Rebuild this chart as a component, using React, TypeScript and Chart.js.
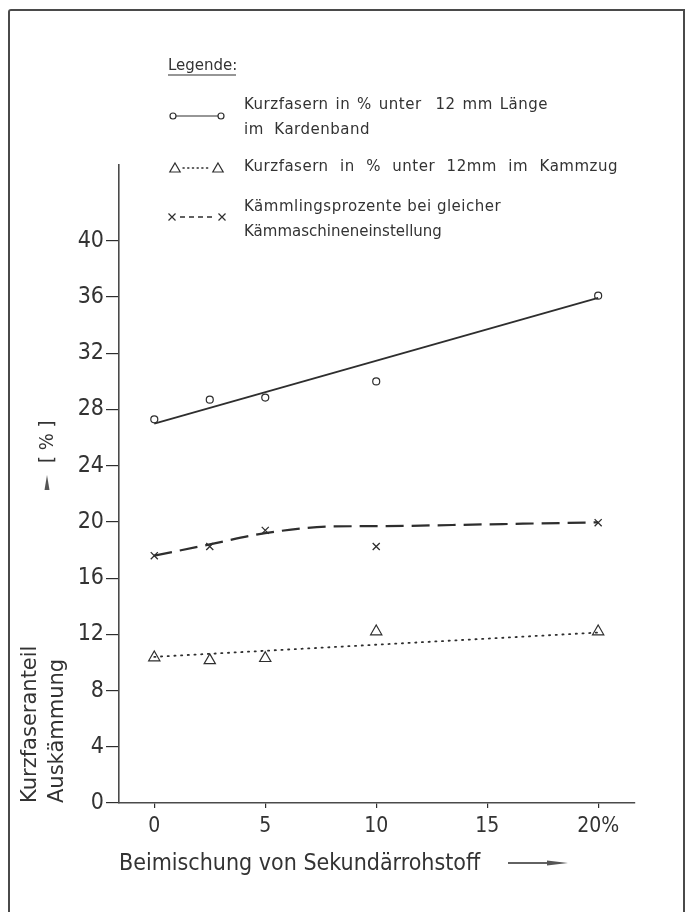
import React, { useEffect, useRef } from "react";
import { Chart, registerables } from "chart.js";

Chart.register(...registerables);

// ---- data ----
const xTickValues = [0, 5, 10, 15, 20];
const yTickValues = [0, 4, 8, 12, 16, 20, 24, 28, 32, 36, 40];

const xValues = [0, 2.5, 5, 10, 20];
const kardenband = [27.3, 28.7, 28.85, 30.0, 36.1];
const kammzug = [10.35, 10.15, 10.3, 12.2, 12.2];
const kaemmling = [17.6, 18.25, 19.4, 18.25, 19.95];

const kardenbandFitX = [0, 20];
const kardenbandFit = [27.0, 35.95];
const kammzugFitX = [0, 20];
const kammzugFit = [10.4, 12.13];
const kaemmlingCurveX = [0, 2.5, 5, 8, 10, 15, 20];
const kaemmlingCurve = [17.6, 18.4, 19.2, 19.68, 19.7, 19.83, 19.97];

const legendTitle = "Legende:";
const seriesLabels = [
  ["Kurzfasern in % unter  12 mm Länge", "im Kardenband"],
  ["Kurzfasern in % unter 12mm im Kammzug"],
  ["Kämmlingsprozente bei gleicher", "Kämmaschineneinstellung"],
];
const xTitle = "Beimischung von Sekundärrohstoff";
const yTitle = ["Kurzfaseranteil", "Auskämmung"];
const yUnit = "[ % ]";

const INK = "#2e2e2e";
const TXT = "#333";
const COND = "'DejaVu Sans Condensed', 'DejaVu Sans', sans-serif";
const SANS = "'DejaVu Sans', sans-serif";

const pts = (xs: number[], ys: number[]) => xs.map((x, i) => ({ x, y: ys[i] }));

function fitText(ctx: CanvasRenderingContext2D, text: string, x: number, y: number, w: number) {
  const c: any = ctx;
  const base = 0.5;
  c.letterSpacing = base + "px";
  c.wordSpacing = "0px";
  const nat = ctx.measureText(text).width;
  const spaces = (text.match(/ /g) || []).length;
  if (spaces > 0) c.wordSpacing = Math.max(0, (w - nat) / spaces) + "px";
  else c.letterSpacing = Math.max(0, base + (w - nat) / text.length) + "px";
  ctx.fillText(text, x, y);
  c.letterSpacing = "0px";
  c.wordSpacing = "0px";
}

function tri(ctx: CanvasRenderingContext2D, x: number, y: number, r: number) {
  ctx.beginPath();
  ctx.moveTo(x, y - r);
  ctx.lineTo(x + r * 0.866, y + r * 0.5);
  ctx.lineTo(x - r * 0.866, y + r * 0.5);
  ctx.closePath();
  ctx.stroke();
}

function cross(ctx: CanvasRenderingContext2D, x: number, y: number, r: number) {
  ctx.beginPath();
  ctx.moveTo(x - r, y - r);
  ctx.lineTo(x + r, y + r);
  ctx.moveTo(x + r, y - r);
  ctx.lineTo(x - r, y + r);
  ctx.stroke();
}

const overlayPlugin = {
  id: "overlay",
  afterDraw(chart: any) {
    const ctx: CanvasRenderingContext2D = chart.ctx;
    ctx.save();
    ctx.fillStyle = TXT;
    ctx.strokeStyle = INK;
    ctx.textBaseline = "middle";
    ctx.textAlign = "left";

    // legend
    ctx.font = `15px ${SANS}`;
    fitText(ctx, legendTitle, 168, 66, 66);
    ctx.lineWidth = 1.2;
    ctx.beginPath();
    ctx.moveTo(168, 75);
    ctx.lineTo(236, 75);
    ctx.stroke();

    fitText(ctx, seriesLabels[0][0], 244, 105, 304);
    fitText(ctx, seriesLabels[0][1], 244, 130, 126);
    fitText(ctx, seriesLabels[1][0], 244, 167, 374);
    fitText(ctx, seriesLabels[2][0], 244, 207, 255);
    fitText(ctx, seriesLabels[2][1], 244, 232, 196);

    // legend markers
    ctx.lineWidth = 1.2;
    ctx.beginPath();
    ctx.arc(173, 116, 3, 0, Math.PI * 2);
    ctx.stroke();
    ctx.beginPath();
    ctx.arc(221, 116, 3, 0, Math.PI * 2);
    ctx.stroke();
    ctx.beginPath();
    ctx.moveTo(176, 116);
    ctx.lineTo(218, 116);
    ctx.stroke();

    tri(ctx, 175, 169, 6);
    tri(ctx, 218, 169, 6);
    ctx.save();
    ctx.setLineDash([1.2, 3.5]);
    ctx.lineCap = "round";
    ctx.lineWidth = 1.4;
    ctx.beginPath();
    ctx.moveTo(183, 168);
    ctx.lineTo(211, 168);
    ctx.stroke();
    ctx.restore();

    cross(ctx, 172, 217, 3.5);
    cross(ctx, 222, 217, 3.5);
    ctx.save();
    ctx.setLineDash([5, 4]);
    ctx.lineWidth = 1.3;
    ctx.beginPath();
    ctx.moveTo(180, 217);
    ctx.lineTo(216, 217);
    ctx.stroke();
    ctx.restore();

    // y unit with arrow
    ctx.fillStyle = "#555";
    ctx.beginPath();
    ctx.moveTo(47, 475);
    ctx.lineTo(49.5, 490);
    ctx.lineTo(44.5, 490);
    ctx.closePath();
    ctx.fill();
    ctx.fillStyle = TXT;
    ctx.save();
    ctx.translate(48, 463);
    ctx.rotate(-Math.PI / 2);
    ctx.font = `20px ${COND}`;
    ctx.fillText(yUnit, 0, 0);
    ctx.restore();

    // x title arrow
    ctx.lineWidth = 1.5;
    ctx.beginPath();
    ctx.moveTo(508, 863);
    ctx.lineTo(552, 863);
    ctx.stroke();
    ctx.fillStyle = "#555";
    ctx.beginPath();
    ctx.moveTo(547, 860.5);
    ctx.lineTo(568, 863);
    ctx.lineTo(547, 865.5);
    ctx.closePath();
    ctx.fill();

    ctx.restore();
  },
};

export default function App() {
  const ref = useRef<HTMLCanvasElement | null>(null);

  useEffect(() => {
    if (!ref.current) return;
    const chart = new Chart(ref.current, {
      type: "scatter",
      data: {
        datasets: [
          {
            label: "Kardenband Ausgleich",
            data: pts(kardenbandFitX, kardenbandFit),
            showLine: true,
            borderColor: INK,
            borderWidth: 1.8,
            pointRadius: 0,
          },
          {
            label: "Kämmling Kurve",
            data: pts(kaemmlingCurveX, kaemmlingCurve),
            showLine: true,
            borderColor: INK,
            borderWidth: 2.2,
            borderDash: [18, 8],
            cubicInterpolationMode: "monotone",
            pointRadius: 0,
          },
          {
            label: "Kammzug Ausgleich",
            data: pts(kammzugFitX, kammzugFit),
            showLine: true,
            borderColor: INK,
            borderWidth: 1.8,
            borderDash: [1.2, 5.5],
            borderCapStyle: "round",
            pointRadius: 0,
          },
          {
            label: "Kurzfasern Kardenband",
            data: pts(xValues, kardenband),
            showLine: false,
            pointStyle: "circle",
            pointRadius: 3.5,
            pointBorderWidth: 1.2,
            pointBorderColor: INK,
            pointBackgroundColor: "#fff",
          },
          {
            label: "Kurzfasern Kammzug",
            data: pts(xValues, kammzug),
            showLine: false,
            pointStyle: "triangle",
            pointRadius: 6.5,
            pointBorderWidth: 1.2,
            pointBorderColor: INK,
            pointBackgroundColor: "rgba(255,255,255,0)",
          },
          {
            label: "Kämmlingsprozente",
            data: pts(xValues, kaemmling),
            showLine: false,
            pointStyle: "crossRot",
            pointRadius: 5,
            pointBorderWidth: 1.3,
            pointBorderColor: INK,
          },
        ],
      },
      options: {
        animation: false,
        responsive: false,
        devicePixelRatio: 1,
        layout: { padding: { top: 165, right: 51, bottom: 0, left: 0 } },
        plugins: { legend: { display: false }, tooltip: { enabled: false } },
        scales: {
          x: {
            type: "linear",
            min: -1.59,
            max: 21.66,
            afterBuildTicks: (s: any) => {
              s.ticks = xTickValues.map((v) => ({ value: v }));
            },
            afterFit: (s: any) => {
              s.height = 109;
            },
            grid: { drawOnChartArea: false, drawTicks: true, tickLength: 5, color: INK, lineWidth: 1.2 },
            border: { display: true, color: "#4a4a4a", width: 1.6 },
            ticks: {
              font: { family: COND, size: 21 },
              color: TXT,
              padding: 6,
              maxRotation: 0,
              autoSkip: false,
              callback: (v: any) => (v === 20 ? "20%" : String(v)),
            },
            title: {
              display: true,
              text: xTitle,
              align: "start",
              color: TXT,
              font: { family: COND, size: 23, lineHeight: 1.2 },
              padding: { top: 0, bottom: 34 },
            },
          },
          y: {
            min: 0,
            max: 45.4,
            afterBuildTicks: (s: any) => {
              s.ticks = yTickValues.map((v) => ({ value: v }));
            },
            afterFit: (s: any) => {
              s.width = 119;
            },
            grid: { drawOnChartArea: false, drawTicks: true, tickLength: 13, color: INK, lineWidth: 1.2 },
            border: { display: true, color: "#4a4a4a", width: 1.6 },
            ticks: {
              font: { family: COND, size: 23 },
              color: TXT,
              padding: 2,
              autoSkip: false,
            },
            title: {
              display: true,
              text: yTitle,
              align: "start",
              color: TXT,
              font: { family: SANS, size: 21, lineHeight: 1.3 },
              padding: { top: 16.5, bottom: 0 },
            },
          },
        },
      },
      plugins: [overlayPlugin],
    } as any);
    return () => chart.destroy();
  }, []);

  return (
    <div
      style={{
        position: "absolute",
        left: 0,
        top: 0,
        width: 686,
        height: 912,
        overflow: "hidden",
        background: "#fff",
      }}
    >
      <div
        style={{
          position: "absolute",
          left: 8,
          top: 9,
          width: 677,
          height: 1000,
          boxSizing: "border-box",
          borderLeft: "2px solid #4a4a4a",
          borderTop: "2px solid #4a4a4a",
          borderRight: "2px solid #4a4a4a",
          borderTopLeftRadius: 3,
        }}
      />
      <canvas
        ref={ref}
        width={686}
        height={912}
        style={{ position: "absolute", left: 0, top: 0, display: "block" }}
      />
    </div>
  );
}
